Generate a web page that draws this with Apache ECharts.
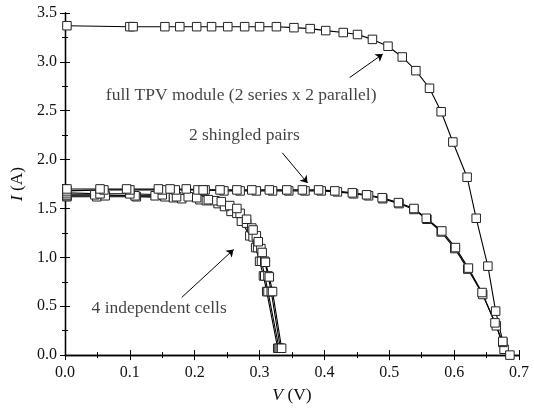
<!DOCTYPE html>
<html><head><meta charset="utf-8">
<script src="https://cdn.jsdelivr.net/npm/echarts@6/dist/echarts.min.js"></script>
<style>html,body{margin:0;padding:0;background:#fff}#c{width:534px;height:409px}</style>
</head><body><div id="c"></div>
<script>
// ---- data (V in volts, I in amps) ----
const xTicks = [0.0, 0.1, 0.2, 0.3, 0.4, 0.5, 0.6, 0.7];
const yTicks = [0.0, 0.5, 1.0, 1.5, 2.0, 2.5, 3.0, 3.5];

const fullModule = [[0.003,3.37],[0.100,3.36],[0.105,3.36],[0.154,3.36],[0.177,3.36],[0.203,3.36],[0.226,3.36],[0.251,3.36],[0.277,3.36],[0.300,3.36],[0.326,3.36],[0.353,3.35],[0.378,3.34],[0.402,3.32],[0.429,3.30],[0.451,3.28],[0.474,3.23],[0.498,3.16],[0.520,3.05],[0.541,2.91],[0.562,2.73],[0.580,2.49],[0.598,2.18],[0.620,1.82],[0.634,1.40],[0.652,0.91],[0.664,0.45],[0.675,0.14],[0.686,0.0]];

const shingledPair1 = [[0.003,1.70],[0.054,1.70],[0.095,1.70],[0.144,1.70],[0.162,1.70],[0.187,1.70],[0.213,1.69],[0.239,1.69],[0.265,1.69],[0.288,1.69],[0.315,1.69],[0.342,1.69],[0.366,1.69],[0.391,1.69],[0.416,1.68],[0.443,1.66],[0.465,1.64],[0.489,1.61],[0.514,1.56],[0.538,1.50],[0.557,1.40],[0.581,1.27],[0.602,1.10],[0.622,0.89],[0.643,0.64],[0.663,0.33],[0.675,0.13]];
const shingledPair2 = [[0.003,1.68],[0.060,1.69],[0.100,1.69],[0.150,1.69],[0.170,1.69],[0.205,1.69],[0.216,1.69],[0.245,1.68],[0.270,1.68],[0.295,1.68],[0.320,1.68],[0.345,1.68],[0.370,1.68],[0.395,1.68],[0.420,1.67],[0.445,1.65],[0.468,1.63],[0.490,1.60],[0.515,1.55],[0.538,1.49],[0.558,1.39],[0.580,1.26],[0.601,1.09],[0.621,0.88],[0.644,0.62],[0.665,0.30],[0.677,0.06]];

const cell1 = [[0.003,1.66],[0.054,1.65],[0.100,1.65],[0.150,1.64],[0.190,1.62],[0.221,1.59],[0.241,1.57],[0.265,1.50],[0.280,1.39],[0.290,1.28],[0.298,1.16],[0.304,1.05],[0.309,0.95],[0.315,0.80],[0.320,0.65],[0.334,0.07]];
const cell2 = [[0.003,1.64],[0.046,1.64],[0.108,1.63],[0.154,1.62],[0.203,1.61],[0.231,1.58],[0.254,1.53],[0.270,1.45],[0.288,1.30],[0.295,1.22],[0.302,1.09],[0.308,0.96],[0.313,0.81],[0.318,0.65],[0.332,0.07]];
const cell3 = [[0.003,1.63],[0.062,1.63],[0.139,1.63],[0.172,1.62],[0.218,1.58],[0.246,1.52],[0.265,1.45],[0.280,1.35],[0.290,1.21],[0.297,1.10],[0.303,0.96],[0.308,0.81],[0.313,0.65],[0.330,0.07]];
const cell4 = [[0.003,1.62],[0.049,1.62],[0.110,1.62],[0.167,1.61],[0.180,1.60],[0.208,1.59],[0.236,1.55],[0.256,1.47],[0.272,1.37],[0.285,1.22],[0.294,1.10],[0.300,0.96],[0.306,0.81],[0.311,0.65],[0.328,0.07]];

// annotations: [label, text anchor V, I], arrows: [fromV, fromI, toV, toI]
const labels = [
  ['full TPV module (2 series x 2 parallel)', 0.063, 2.655],
  ['2 shingled pairs', 0.191, 2.25],
  ['4 independent cells', 0.041, 0.48]
];
const arrows = [
  [0.439, 2.84, 0.490, 3.08],
  [0.335, 2.07, 0.374, 1.76],
  [0.180, 0.59, 0.260, 1.08]
];

const FONT = '"Liberation Serif", "Times New Roman", serif';
const chart = echarts.init(document.getElementById('c'), null, {renderer: 'canvas'});

function mkSeries(name, data) {
  return {
    name: name, type: 'line', data: data, xAxisIndex: 0, yAxisIndex: 0,
    symbol: 'rect', symbolSize: 8.5, showSymbol: true,
    lineStyle: {color: '#000', width: 1.1},
    itemStyle: {color: '#fff', borderColor: '#222', borderWidth: 1},
    emphasis: {disabled: true}, animation: false, z: 3
  };
}

const series = [
  mkSeries('cell4', cell4), mkSeries('cell3', cell3), mkSeries('cell2', cell2), mkSeries('cell1', cell1),
  mkSeries('sh2', shingledPair2), mkSeries('sh1', shingledPair1), mkSeries('full', fullModule)
];
series.push({
  type: 'line', data: [], silent: true, animation: false, color: '#000',
  markLine: {
    silent: true, animation: false, symbol: ['none', 'arrow'], symbolSize: 7,
    lineStyle: {color: '#000', width: 1, type: 'solid'},
    itemStyle: {color: '#000'},
    label: {show: false},
    data: arrows.map(a => [{coord: [a[0], a[1]]}, {coord: [a[2], a[3]]}])
  }
});
series.push({
  type: 'scatter', data: labels.map(l => [l[1], l[2], l[0]]), symbolSize: 0, silent: true, animation: false,
  label: {show: true, position: 'right', distance: 0, formatter: p => p.data[2],
    fontFamily: FONT, fontSize: 17.5, color: '#111'}
});

const common = {
  min: 0, axisLine: {show: true, lineStyle: {color: '#000', width: 1.3}},
  splitLine: {show: false},
  axisTick: {show: true, inside: true, length: 5, lineStyle: {color: '#000', width: 1}},
  minorTick: {show: true, splitNumber: 2, length: 3, lineStyle: {color: '#000', width: 1}}
};

chart.setOption({
  backgroundColor: '#fff',
  animation: false,
  grid: {left: 65, right: 15, top: 13, bottom: 47, containLabel: false},
  xAxis: [
    Object.assign({}, common, {type: 'value', max: 0.7, interval: 0.1, position: 'bottom',
      name: '{i|V} (V)', nameLocation: 'middle', nameGap: 27,
      nameTextStyle: {fontFamily: FONT, fontSize: 17.5, color: '#111', rich: {i: {fontStyle: 'italic', fontFamily: FONT, fontSize: 17.5}}},
      axisLabel: {fontFamily: FONT, fontSize: 16, color: '#111', margin: 10, formatter: v => v.toFixed(1)}}),
    Object.assign({}, common, {type: 'value', max: 0.7, interval: 0.1, position: 'top', axisLabel: {show: false}})
  ],
  yAxis: [
    Object.assign({}, common, {type: 'value', max: 3.5, interval: 0.5, position: 'left',
      name: '{i|I} (A)', nameLocation: 'middle', nameGap: 35, nameRotate: 90,
      nameTextStyle: {fontFamily: FONT, fontSize: 17.5, color: '#111', rich: {i: {fontStyle: 'italic', fontFamily: FONT, fontSize: 17.5}}},
      axisLabel: {fontFamily: FONT, fontSize: 16, color: '#111', margin: 8, formatter: v => v.toFixed(1)}}),
    Object.assign({}, common, {type: 'value', max: 3.5, interval: 0.5, position: 'right', axisLabel: {show: false}})
  ],
  series: series
});
</script></body></html>
